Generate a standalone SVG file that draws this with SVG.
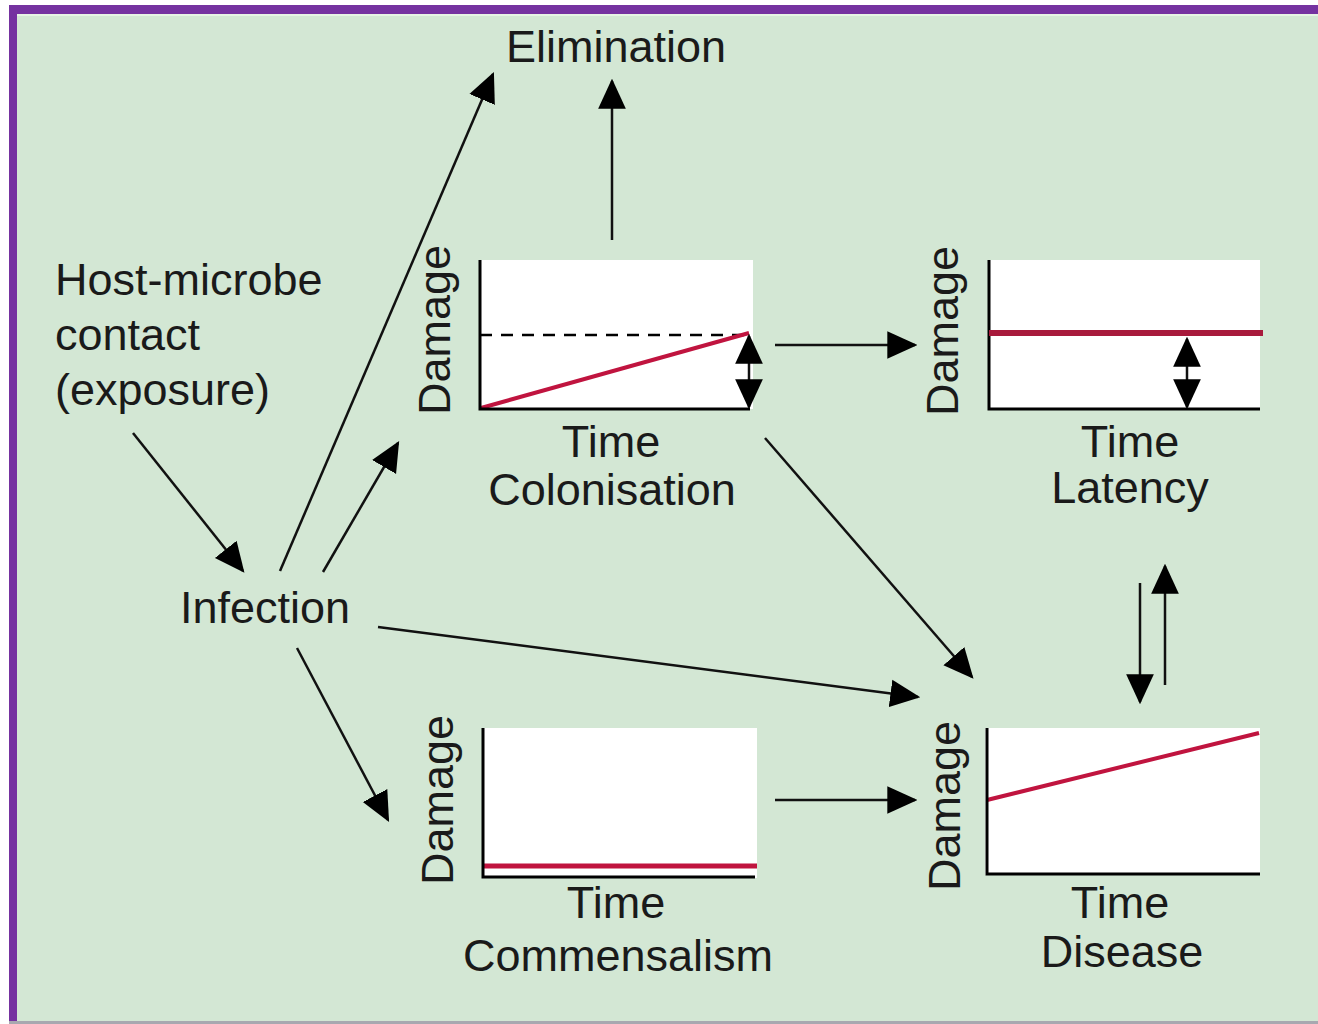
<svg xmlns="http://www.w3.org/2000/svg" width="1318" height="1024" viewBox="0 0 1318 1024">
  <defs>
    <style>
      .t { font-family: "Liberation Sans", Arial, sans-serif; font-size: 45px; fill: #1a1a1a; }
      .c { text-anchor: middle; }
      .plot { fill: #ffffff; }
      .axis { stroke: #000; stroke-width: 3; fill: none; }
      .red { stroke: #c0143f; stroke-width: 4; fill: none; }
      .conn { stroke: #111; stroke-width: 2.5; fill: none; marker-end: url(#ah); }
      .dbl { stroke: #111; stroke-width: 2.5; fill: none; marker-start: url(#ahs); marker-end: url(#ah); }
    </style>
    <marker id="ah" markerUnits="userSpaceOnUse" markerWidth="30" markerHeight="30" viewBox="0 0 26 24" refX="24" refY="12" orient="auto">
      <path d="M0,0 L26,12 L0,24 z" fill="#000"/>
    </marker>
    <marker id="ahs" markerUnits="userSpaceOnUse" markerWidth="30" markerHeight="30" viewBox="0 0 26 24" refX="2" refY="12" orient="auto">
      <path d="M26,0 L0,12 L26,24 z" fill="#000"/>
    </marker>
  </defs>

  <rect x="0" y="0" width="1318" height="1024" fill="#ffffff"/>
  <rect x="9" y="5" width="1309" height="1019" fill="#d3e7d4"/>
  <rect x="17" y="14" width="1301" height="2" fill="#e6f4e4"/>
  <rect x="9" y="5" width="1309" height="9" fill="#7532a0"/>
  <rect x="9" y="5" width="8" height="1019" fill="#7532a0"/>
  <rect x="9" y="1021" width="1309" height="3" fill="#a8a8b0"/>

  <g id="host-contact">
    <text class="t" x="55" y="295">Host-microbe</text>
    <text class="t" x="55" y="350">contact</text>
    <text class="t" x="55" y="405">(exposure)</text>
  </g>

  <g id="infection">
    <text class="t" x="180" y="623">Infection</text>
  </g>

  <g id="elimination">
    <text class="t c" x="616" y="62">Elimination</text>
  </g>

  <g id="colonisation">
    <rect class="plot" x="480" y="260" width="273" height="149"/>
    <line x1="480" y1="335" x2="745" y2="335" stroke="#000" stroke-width="2.5" stroke-dasharray="12,9"/>
    <line class="red" x1="481" y1="408" x2="749" y2="333"/>
    <path class="axis" d="M480,260 V409 H750"/>
    <line class="dbl" x1="749" y1="336" x2="749" y2="407"/>
    <text class="t c" transform="translate(450,330) rotate(-90)">Damage</text>
    <text class="t c" x="611" y="457">Time</text>
    <text class="t c" x="612" y="505">Colonisation</text>
  </g>

  <g id="latency">
    <rect class="plot" x="988" y="260" width="272" height="149"/>
    <path class="axis" d="M989,260 V409 H1260"/>
    <line x1="989" y1="333" x2="1263" y2="333" stroke="#a81a3c" stroke-width="6"/>
    <line class="dbl" x1="1187" y1="339" x2="1187" y2="407"/>
    <text class="t c" transform="translate(958,331) rotate(-90)">Damage</text>
    <text class="t c" x="1130" y="457">Time</text>
    <text class="t c" x="1130" y="503">Latency</text>
  </g>

  <g id="commensalism">
    <rect class="plot" x="482" y="728" width="275" height="150"/>
    <line x1="483" y1="866" x2="757" y2="866" stroke="#c0143f" stroke-width="5"/>
    <path class="axis" d="M483,728 V877 H755"/>
    <text class="t c" transform="translate(453,800) rotate(-90)">Damage</text>
    <text class="t c" x="616" y="918">Time</text>
    <text class="t c" x="618" y="971">Commensalism</text>
  </g>

  <g id="disease">
    <rect class="plot" x="985" y="728" width="275" height="147"/>
    <line class="red" x1="987" y1="800" x2="1259" y2="733"/>
    <path class="axis" d="M987,728 V874 H1260"/>
    <text class="t c" transform="translate(960,806) rotate(-90)">Damage</text>
    <text class="t c" x="1120" y="918">Time</text>
    <text class="t c" x="1122" y="967">Disease</text>
  </g>

  <g id="connectors">
    <line class="conn" x1="133" y1="433" x2="243" y2="571"/>
    <line class="conn" x1="280" y1="571" x2="493" y2="74"/>
    <line class="conn" x1="323" y1="572" x2="398" y2="443"/>
    <line class="conn" x1="612" y1="240" x2="612" y2="81"/>
    <line class="conn" x1="775" y1="345" x2="915" y2="345"/>
    <line class="conn" x1="765" y1="438" x2="972" y2="677"/>
    <line class="conn" x1="378" y1="627" x2="918" y2="697"/>
    <line class="conn" x1="297" y1="648" x2="388" y2="820"/>
    <line class="conn" x1="775" y1="800" x2="915" y2="800"/>
    <line class="conn" x1="1140" y1="583" x2="1140" y2="702"/>
    <line class="conn" x1="1165" y1="685" x2="1165" y2="566"/>
  </g>
</svg>
